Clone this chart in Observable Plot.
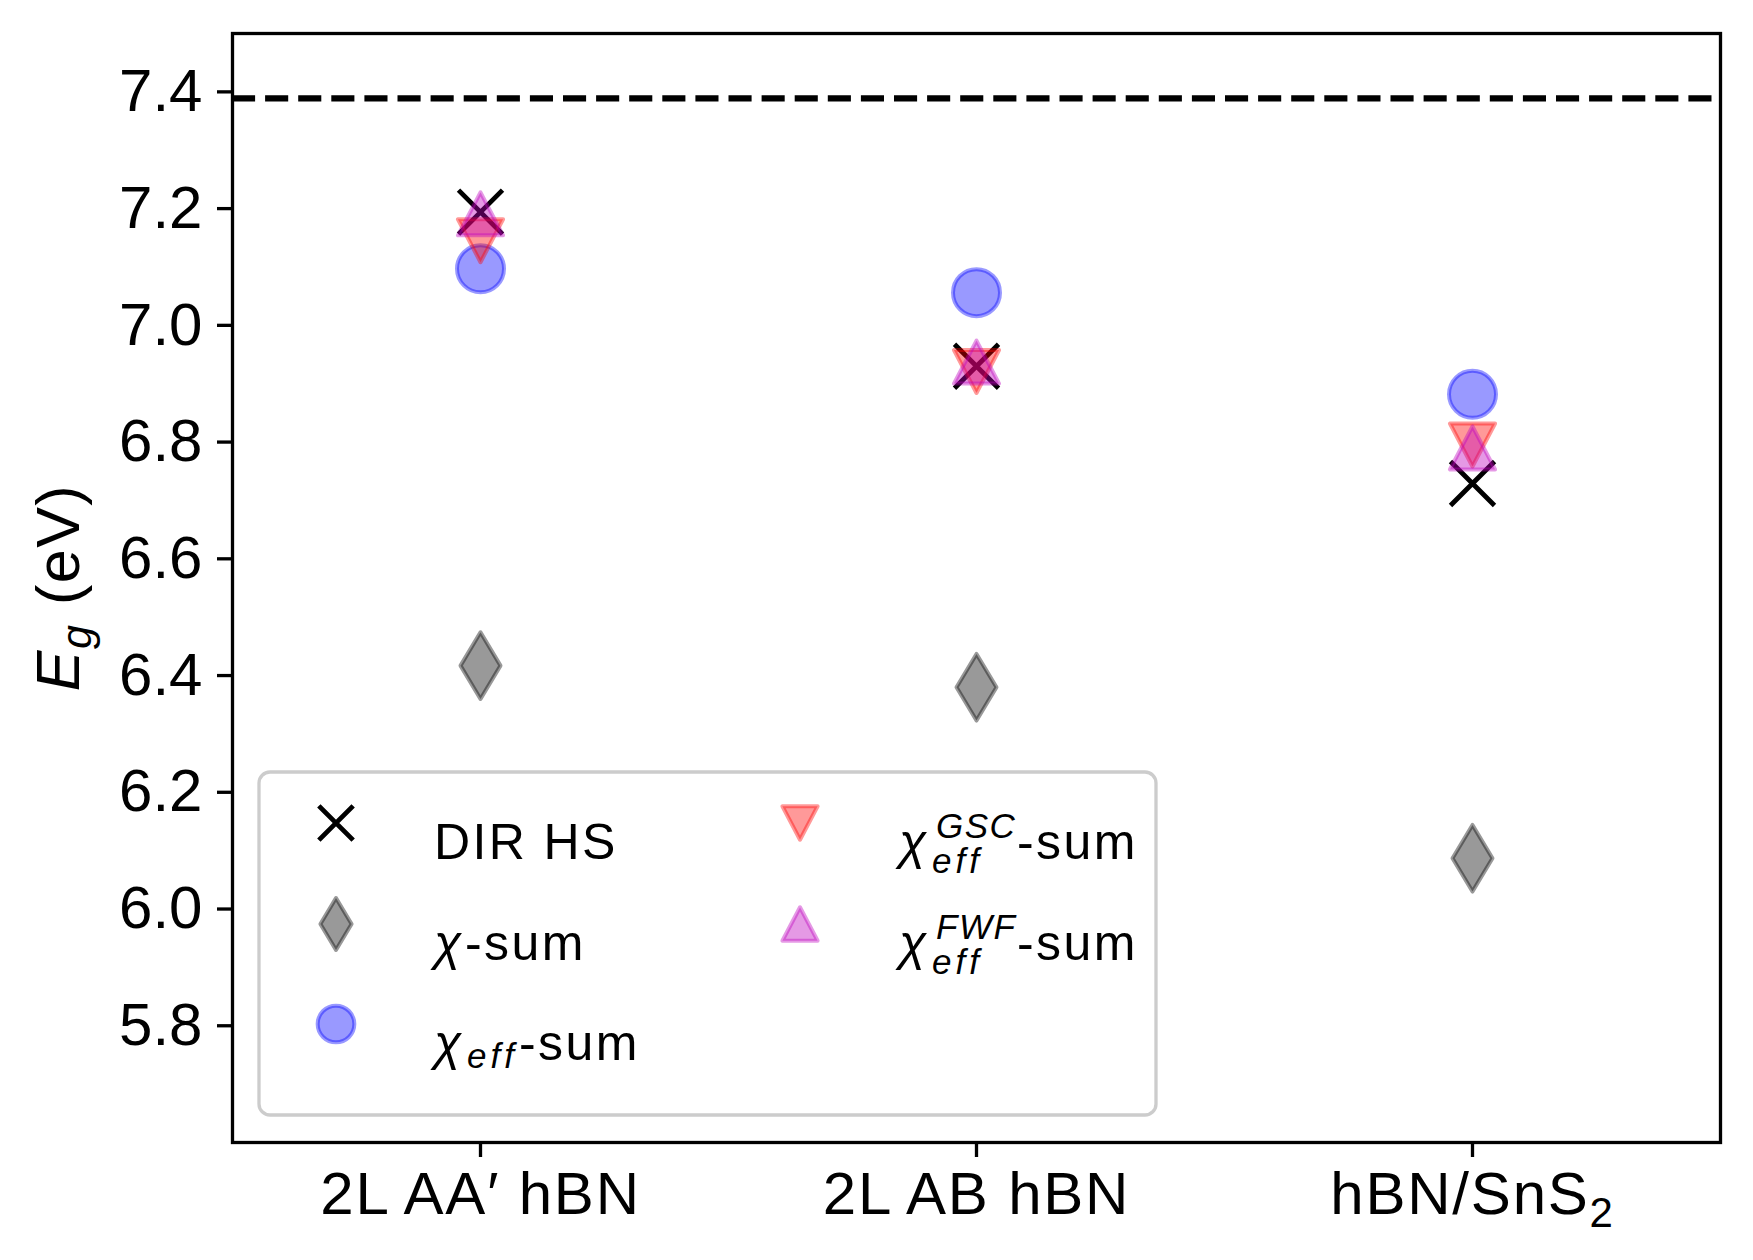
<!DOCTYPE html>
<html><head><meta charset="utf-8">
<script src="https://cdn.jsdelivr.net/npm/d3@7"></script>
<script src="https://cdn.jsdelivr.net/npm/@observablehq/plot@0.6"></script>
<style>
html,body{margin:0;padding:0;background:#fff;}
#chart svg{display:block;font-family:"Liberation Sans",Arial,sans-serif;}
</style></head><body><div id="chart"></div>
<script>
// ---- data ----
const materials = ["2L AA\u2032 hBN", "2L AB hBN", "hBN/SnS2"];
const dirHS      = [7.194, 6.930, 6.729];
const chiSum     = [6.417, 6.380, 6.087];
const chiEffSum  = [7.097, 7.056, 6.882];
const chiEffGSC  = [7.145, 6.921, 6.795];
const chiEffFWF  = [7.191, 6.937, 6.790];
const monolayerGap = 7.389;
const yTicks = [5.8, 6.0, 6.2, 6.4, 6.6, 6.8, 7.0, 7.2, 7.4];

// ---- marker shapes ----
function shape(pts) {
  return {draw(ctx, size) {
    const r = Math.sqrt(size / Math.PI);
    ctx.moveTo(pts[0][0] * r, pts[0][1] * r);
    for (let k = 1; k < pts.length; k++) ctx.lineTo(pts[k][0] * r, pts[k][1] * r);
    ctx.closePath();
  }};
}
const symX = {draw(ctx, size) {
  const r = Math.sqrt(size / Math.PI);
  ctx.moveTo(-r, -r); ctx.lineTo(r, r); ctx.moveTo(-r, r); ctx.lineTo(r, -r);
}};
const symDiamond = shape([[0, -1], [0.6, 0], [0, 1], [-0.6, 0]]);
const symTriDown = shape([[0, 1], [-1.05, -1], [1.05, -1]]);
const symTriUp   = shape([[0, -1], [-1.05, 1], [1.05, 1]]);

const series = [
  {values: dirHS,     symbol: symX,       r: 22,   fill: "none",    stroke: "black",   fo: 1,   so: 1,   sw: 4.8},
  {values: chiSum,    symbol: symDiamond, r: 33.3, fill: "black",   stroke: "black",   fo: 0.4, so: 0.4, sw: 4},
  {values: chiEffSum, symbol: "circle",   r: 23.5, fill: "blue",    stroke: "blue",    fo: 0.4, so: 0.4, sw: 4},
  {values: chiEffGSC, symbol: symTriDown, r: 21.5, fill: "red",     stroke: "red",     fo: 0.4, so: 0.4, sw: 4},
  {values: chiEffFWF, symbol: symTriUp,   r: 21.5, fill: "#bf00bf", stroke: "#bf00bf", fo: 0.4, so: 0.4, sw: 4}
];

const dotMarks = series.map(s => Plot.dot(
  s.values.map((v, i) => ({i, v})),
  {x: "i", y: "v", symbol: s.symbol, r: s.r, fill: s.fill, fillOpacity: s.fo,
   stroke: s.stroke, strokeOpacity: s.so, strokeWidth: s.sw,
   strokeLinejoin: "round", strokeLinecap: "butt"}
));

const plot = Plot.plot({
  width: 1753, height: 1260,
  marginLeft: 232, marginRight: 33, marginTop: 33, marginBottom: 118,
  x: {domain: [-0.5, 2.5]},
  y: {domain: [5.6, 7.5]},
  style: {background: "white", color: "black", fontFamily: "Liberation Sans, Arial, sans-serif", overflow: "visible"},
  marks: [
    Plot.ruleY([monolayerGap], {stroke: "black", strokeWidth: 6.25, strokeDasharray: "23.1 10"}),
    ...dotMarks,
    Plot.frame({stroke: "black", strokeWidth: 3.3}),
    Plot.axisX({ticks: [0, 1, 2], tickFormat: i => materials[i], tickSize: 15, tickPadding: 14,
                fontSize: 60, strokeWidth: 3.3, label: null}),
    Plot.axisY({ticks: yTicks, tickFormat: d => d.toFixed(1), tickSize: 15, tickPadding: 15,
                fontSize: 60, strokeWidth: 3.3, label: null})
  ]
});
document.getElementById("chart").appendChild(plot);

const svg = d3.select(plot);

// x tick labels: slightly wider spacing, subscript in "hBN/SnS2"
svg.selectAll('g[aria-label="x-axis tick label"] text').each(function() {
  const t = d3.select(this);
  t.attr("letter-spacing", 1.8);
  if (t.text() === "hBN/SnS2") {
    t.text("hBN/SnS");
    t.append("tspan").attr("font-size", 42).attr("dy", 13).text("2");
  }
});

// y-axis label  E_g (eV)
const yl = svg.append("text")
  .attr("transform", "translate(79,587.5) rotate(-90)")
  .attr("text-anchor", "middle").attr("font-size", 61).attr("fill", "black")
  .attr("letter-spacing", 1.5)
  .style("white-space", "pre");
yl.append("tspan").attr("font-style", "italic").text("E");
yl.append("tspan").attr("font-style", "italic").attr("font-size", 43).attr("dy", 12).text("g");
yl.append("tspan").attr("dy", -12).text(" (eV)");

// ---- legend ----
const lg = svg.append("g").attr("text-anchor", "start");
lg.append("rect").attr("x", 259).attr("y", 772).attr("width", 897).attr("height", 343).attr("rx", 11)
  .attr("fill", "white").attr("fill-opacity", 0.8).attr("stroke", "#cccccc").attr("stroke-width", 3.3);

const legendPos = [[336, 823], [336, 924], [336, 1024], [800, 823], [800, 924]];
const legendScale = 0.78;
series.forEach((s, k) => {
  const sym = s.symbol === "circle" ? d3.symbolCircle : s.symbol;
  const rr = s.r * legendScale;
  lg.append("path")
    .attr("transform", `translate(${legendPos[k][0]},${legendPos[k][1]})`)
    .attr("d", d3.symbol(sym, Math.PI * rr * rr)())
    .attr("fill", s.fill).attr("fill-opacity", s.fo)
    .attr("stroke", s.stroke).attr("stroke-opacity", s.so).attr("stroke-width", s.sw)
    .attr("stroke-linejoin", "round");
});

function txt(x, y, str, size, italic, spacing) {
  const t = lg.append("text").attr("x", x).attr("y", y).attr("font-size", size)
    .attr("fill", "black").attr("text-anchor", "start").attr("letter-spacing", spacing).text(str);
  if (italic) t.attr("font-style", "italic");
  return t;
}
function mathLabel(x, y, sub, sup, sumOffset) {
  txt(x, y, "\u03c7", 50, true, 0);
  if (sup) txt(x + 37, y - 21, sup, 35, true, 1.5);
  if (sub) txt(x + 33, y + (sup ? 14 : 8), sub, 35, true, 4);
  txt(x + sumOffset, y, "-sum", 50, false, 2.4);
}
txt(434, 859, "DIR HS", 50, false, 2.4);
mathLabel(434, 960, null, null, 31);
mathLabel(434, 1060, "eff", null, 85);
mathLabel(899, 859, "eff", "GSC", 118);
mathLabel(899, 960, "eff", "FWF", 118);
</script></body></html>
